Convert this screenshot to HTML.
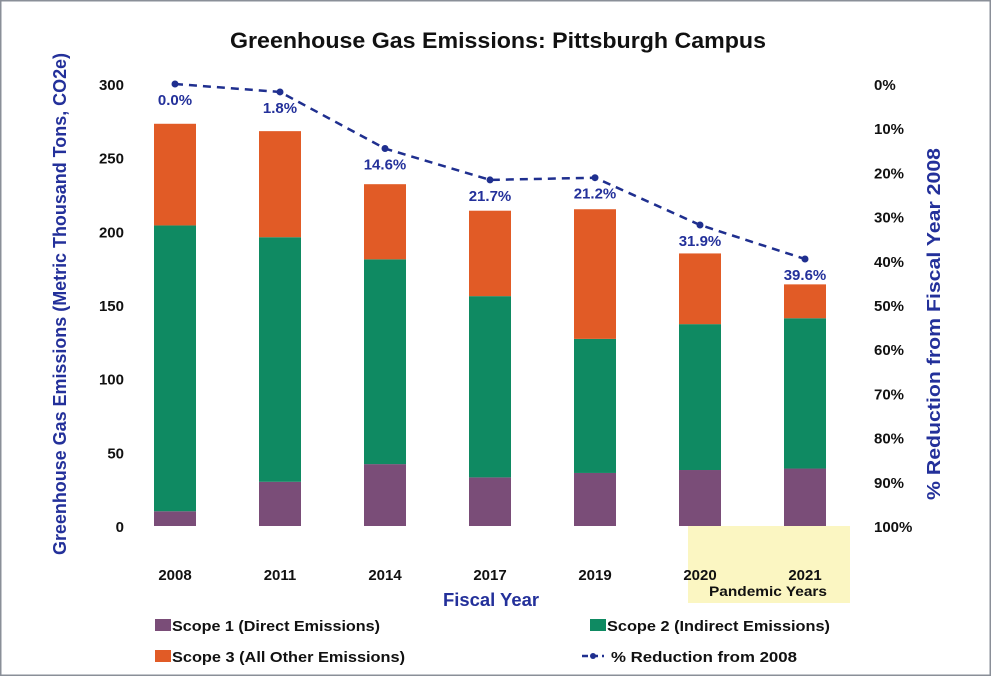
<!DOCTYPE html>
<html><head><meta charset="utf-8"><style>
html,body{margin:0;padding:0;background:#fff}
svg{display:block;font-family:"Liberation Sans",sans-serif}
</style></head><body>
<svg id="chart" width="991" height="676" viewBox="0 0 991 676">
<rect x="0.5" y="0.5" width="990" height="675" fill="#fff" stroke="#8a8f98" stroke-width="2"/>
<text x="498" y="48" text-anchor="middle" font-size="22" font-weight="bold" fill="#111" textLength="536" lengthAdjust="spacingAndGlyphs">Greenhouse Gas Emissions: Pittsburgh Campus</text>
<rect x="688" y="526" width="162" height="77" fill="#fbf6c2"/>
<text x="768" y="596" text-anchor="middle" font-size="14" font-weight="bold" fill="#111" textLength="118" lengthAdjust="spacingAndGlyphs">Pandemic Years</text>
<g id="bars"></g>
<g id="axes"></g>
<g id="line"></g>
<text transform="translate(66,304) rotate(-90)" text-anchor="middle" font-size="18" font-weight="bold" fill="#23309a" textLength="502" lengthAdjust="spacingAndGlyphs">Greenhouse Gas Emissions (Metric Thousand Tons, CO2e)</text>
<text transform="translate(940,324) rotate(-90)" text-anchor="middle" font-size="18" font-weight="bold" fill="#23309a" textLength="352" lengthAdjust="spacingAndGlyphs">% Reduction from Fiscal Year 2008</text>
<text x="491" y="606" text-anchor="middle" font-size="18" font-weight="bold" fill="#23309a" textLength="96" lengthAdjust="spacingAndGlyphs">Fiscal Year</text>
<g font-size="15" font-weight="bold" fill="#111">
<g><rect x="155" y="619" width="16" height="12" fill="#7a4d78"/><text x="172" y="631" textLength="208" lengthAdjust="spacingAndGlyphs">Scope 1 (Direct Emissions)</text></g>
<g><rect x="155" y="650" width="16" height="12" fill="#e15b26"/><text x="172" y="662" textLength="233" lengthAdjust="spacingAndGlyphs">Scope 3 (All Other Emissions)</text></g>
<g><rect x="590" y="619" width="16" height="12" fill="#0f8a62"/><text x="607" y="631" textLength="223" lengthAdjust="spacingAndGlyphs">Scope 2 (Indirect Emissions)</text></g>
<g><line x1="582" y1="656" x2="604" y2="656" stroke="#1f2f8f" stroke-width="2.5" stroke-dasharray="6,4"/><circle cx="593" cy="656" r="3" fill="#1f2f8f"/><text x="611" y="662" textLength="186" lengthAdjust="spacingAndGlyphs">% Reduction from 2008</text></g>
</g>
</svg>
<script>
const years = ["2008","2011","2014","2017","2019","2020","2021"];
const scope1 = [10, 30, 42, 33, 36, 38, 39];
const scope2 = [194, 166, 139, 123, 91, 99, 102];
const scope3 = [69, 72, 51, 58, 88, 48, 23];
const reduction = [0.0, 1.8, 14.6, 21.7, 21.2, 31.9, 39.6];
const leftTicks = [0, 50, 100, 150, 200, 250, 300];
const rightTicks = [0, 10, 20, 30, 40, 50, 60, 70, 80, 90, 100];

const NS = "http://www.w3.org/2000/svg";
const y0 = 526, y1 = 84;
const yL = v => y0 - (v / 300) * (y0 - y1);
const yR = p => y1 + (p / 100) * (y0 - y1);
const xC = i => 175 + i * 105;
const bw = 42;
function mk(tag, attrs, parent) {
  const e = document.createElementNS(NS, tag);
  for (const k in attrs) e.setAttribute(k, attrs[k]);
  parent.appendChild(e);
  return e;
}
const bars = document.getElementById("bars");
const axes = document.getElementById("axes");
const line = document.getElementById("line");
const colors = ["#7a4d78", "#0f8a62", "#e15b26"];
const series = [scope1, scope2, scope3];
years.forEach((yr, i) => {
  let base = 0;
  series.forEach((s, k) => {
    const top = base + s[i];
    const r = mk("rect", {x: xC(i) - bw / 2, y: yL(top), width: bw, height: yL(base) - yL(top), fill: colors[k]}, bars);
    
    
    base = top;
  });
  const t = mk("text", {x: xC(i), y: 580, "text-anchor": "middle", "font-size": 15, "font-weight": "bold", fill: "#111"}, axes);
  t.textContent = yr;
  
  
});
leftTicks.forEach(v => {
  const t = mk("text", {x: 124, y: yL(v) + 6, "text-anchor": "end", "font-size": 15, "font-weight": "bold", fill: "#111"}, axes);
  t.textContent = v;
  
  
});
rightTicks.forEach(p => {
  const t = mk("text", {x: 874, y: yR(p) + 6, "font-size": 15, "font-weight": "bold", fill: "#111"}, axes);
  t.textContent = p + "%";
  
  
});
const pts = reduction.map((p, i) => xC(i) + "," + yR(p)).join(" ");
const pl = mk("polyline", {points: pts, fill: "none", stroke: "#1f2f8f", "stroke-width": 2.5, "stroke-dasharray": "8,6"}, line);


reduction.forEach((p, i) => {
  const c = mk("circle", {cx: xC(i), cy: yR(p), r: 3.5, fill: "#1f2f8f"}, line);
  
  
  const t = mk("text", {x: xC(i), y: yR(p) + 21, "text-anchor": "middle", "font-size": 15, "font-weight": "bold", fill: "#23309a"}, line);
  t.textContent = p.toFixed(1) + "%";
  
  
});
</script>
</body></html>
